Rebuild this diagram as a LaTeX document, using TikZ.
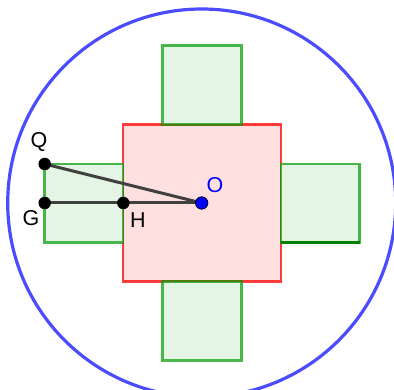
\documentclass[tikz,border=0pt]{standalone}
\usepackage{fontspec}
\setmainfont{Liberation Sans}
\begin{document}
\begin{tikzpicture}[x=1pt,y=-1pt,
  gsq/.style={draw=green!60!black, draw opacity=0.7, fill=green!60!black!10, line width=2.8pt},
  rsq/.style={draw=red, draw opacity=0.75, fill=red!12, line width=2.8pt},
  seg/.style={draw=black!75, line width=3pt},
  pt/.style={circle, fill=black, inner sep=0pt, minimum size=12.5pt},
  opt/.style={circle, fill=blue, draw=black, line width=0.7pt, inner sep=0pt, minimum size=12.5pt},
  lbl/.style={font=\fontsize{21.5}{23}\selectfont, inner sep=0pt}]
\useasboundingbox (0,0) rectangle (394,390);
\draw[draw=blue!70!white, line width=3.2pt] (201.7,203) circle (194);
\draw[rsq] (123,124.3) rectangle (281,281.7);
\draw[gsq] (162.7,45.3) rectangle (241.3,124.3);
\draw[gsq] (162.7,281.7) rectangle (241.3,360.3);
\draw[gsq] (44.3,164) rectangle (123,242.3);
\draw[gsq] (281,164) rectangle (359.7,242.3);
\draw[draw=green!50!black, line width=3.4pt] (281,242.3) -- (359.7,242.3);
\coordinate (Q) at (44.7,164);
\coordinate (G) at (44.7,203);
\coordinate (H) at (123.3,203);
\coordinate (O) at (201.7,203);
\draw[seg] (Q) -- (O);
\draw[seg] (G) -- (H) -- (O);
\node[pt] (q) at (Q) {};
\node[pt] (g) at (G) {};
\node[pt] (h) at (H) {};
\node[opt] (o) at (O) {};
\node[lbl] (lq) at (39,142) {Q};
\node[lbl] (lg) at (31,218) {G};
\node[lbl] (lh) at (138,220) {H};
\node[lbl, text=blue] (lo) at (215,185) {O};
\end{tikzpicture}
\end{document}
